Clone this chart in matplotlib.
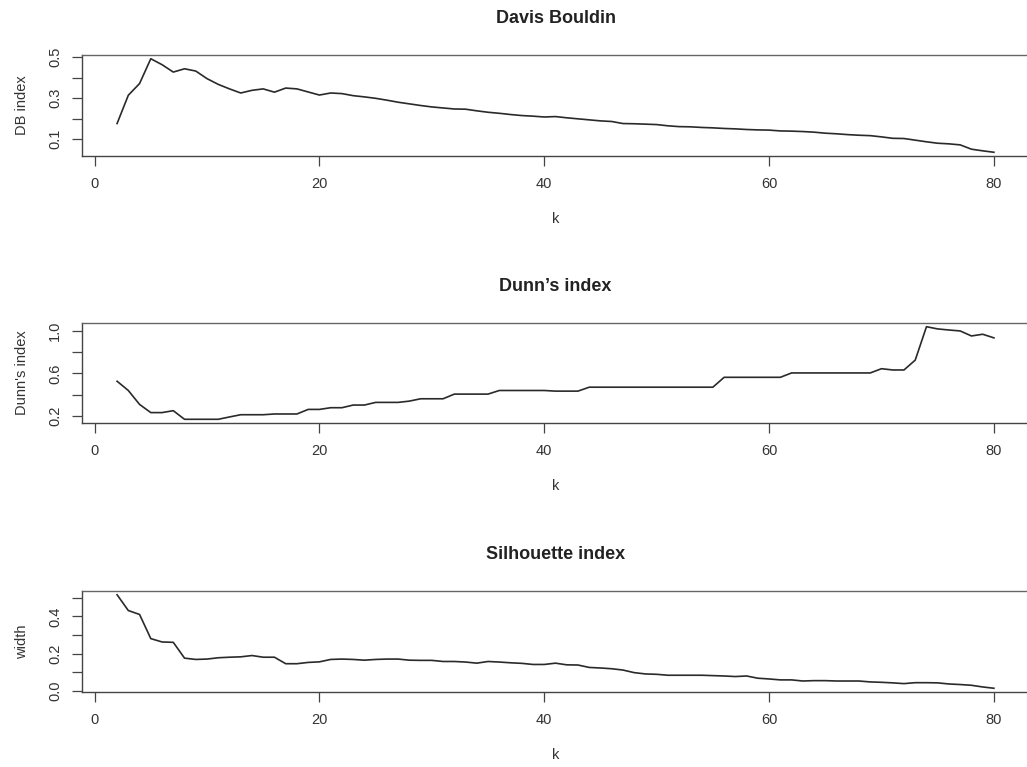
import matplotlib
matplotlib.use("Agg")
import matplotlib.pyplot as plt
import numpy as np

plt.rcParams['font.family'] = ['Liberation Sans', 'DejaVu Sans']

k = list(range(2, 81))

db_index = [0.176, 0.314, 0.371, 0.492, 0.463, 0.427, 0.443, 0.432, 0.395, 0.367,
            0.345, 0.325, 0.338, 0.345, 0.329, 0.349, 0.345, 0.330, 0.315, 0.325,
            0.322, 0.312, 0.306, 0.299, 0.290, 0.280, 0.272, 0.264, 0.257, 0.252,
            0.247, 0.246, 0.238, 0.231, 0.226, 0.220, 0.215, 0.212, 0.208, 0.210,
            0.204, 0.199, 0.194, 0.189, 0.186, 0.176, 0.175, 0.173, 0.171, 0.165,
            0.161, 0.160, 0.157, 0.155, 0.152, 0.150, 0.147, 0.145, 0.144, 0.140,
            0.139, 0.137, 0.134, 0.129, 0.126, 0.122, 0.119, 0.117, 0.111, 0.104,
            0.103, 0.095, 0.087, 0.080, 0.077, 0.072, 0.051, 0.043, 0.036]

dunn_index = [0.527, 0.440, 0.309, 0.232, 0.232, 0.250, 0.169, 0.169, 0.169, 0.169,
              0.191, 0.212, 0.212, 0.212, 0.219, 0.219, 0.219, 0.262, 0.262, 0.278,
              0.278, 0.303, 0.303, 0.328, 0.328, 0.328, 0.340, 0.362, 0.362, 0.362,
              0.406, 0.406, 0.406, 0.406, 0.440, 0.440, 0.440, 0.440, 0.440, 0.434,
              0.434, 0.434, 0.471, 0.471, 0.471, 0.471, 0.471, 0.471, 0.471, 0.471,
              0.471, 0.471, 0.471, 0.471, 0.564, 0.564, 0.564, 0.564, 0.564, 0.564,
              0.605, 0.605, 0.605, 0.605, 0.605, 0.605, 0.605, 0.605, 0.645, 0.633,
              0.633, 0.726, 1.040, 1.019, 1.009, 1.000, 0.953, 0.969, 0.935]

silhouette_width = [0.517, 0.432, 0.411, 0.281, 0.263, 0.261, 0.176, 0.169, 0.171, 0.178,
                    0.181, 0.183, 0.190, 0.181, 0.181, 0.146, 0.146, 0.153, 0.156, 0.169,
                    0.171, 0.169, 0.165, 0.169, 0.171, 0.171, 0.165, 0.164, 0.164, 0.158,
                    0.158, 0.155, 0.149, 0.158, 0.155, 0.151, 0.148, 0.142, 0.142, 0.149,
                    0.140, 0.139, 0.126, 0.123, 0.119, 0.112, 0.098, 0.091, 0.089, 0.084,
                    0.084, 0.084, 0.084, 0.082, 0.080, 0.077, 0.080, 0.068, 0.064, 0.059,
                    0.059, 0.053, 0.055, 0.055, 0.053, 0.053, 0.053, 0.048, 0.046, 0.043,
                    0.039, 0.044, 0.044, 0.043, 0.037, 0.034, 0.030, 0.021, 0.014]

titles = ["Davis Bouldin", "Dunn\u2019s index", "Silhouette index"]
ylabels = ["DB index", "Dunn's index", "width"]
xticks = [0, 20, 40, 60, 80]
yticks_list = [[0.1, 0.2, 0.3, 0.4, 0.5],
               [0.2, 0.4, 0.6, 0.8, 1.0],
               [0.0, 0.1, 0.2, 0.3, 0.4, 0.5]]
ytick_labels_list = [["0.1", "", "0.3", "", "0.5"],
                     ["0.2", "", "0.6", "", "1.0"],
                     ["0.0", "", "0.2", "", "0.4", ""]]
series = [db_index, dunn_index, silhouette_width]

W, H = 1027, 767
fig = plt.figure(figsize=(W / 100, H / 100), dpi=100)

left_px, right_px = 82, 1029
tops = [55, 323, 591]
bottoms = [156, 423, 692]

line_col = "#2a2a2a"
axis_col = "#444444"
text_col = "#333333"
fs = 10.5

for i in range(3):
    t, b = tops[i], bottoms[i]
    ax = fig.add_axes([left_px / W, 1 - b / H, (right_px - left_px) / W, (b - t) / H])
    ax.plot(k, series[i], color=line_col, lw=1.2)
    ax.margins(x=0.04, y=0.04)
    ax.set_xticks(xticks)
    ax.set_xticklabels([str(v) for v in xticks])
    ax.set_yticks(yticks_list[i])
    ax.set_yticklabels(ytick_labels_list[i], rotation=90, va='center')
    for s in ax.spines.values():
        s.set_color(axis_col)
        s.set_linewidth(1.0)
    ax.spines['top'].set_color('#666666')
    ax.spines['right'].set_visible(False)
    ax.tick_params(axis='both', direction='out', length=7.2, width=0.9,
                   color=axis_col, labelcolor=text_col, labelsize=fs)
    ax.tick_params(axis='x', pad=8)
    ax.tick_params(axis='y', pad=7)
    ax.set_xlabel("k", fontsize=fs, color=text_col, labelpad=15)
    ax.set_ylabel(ylabels[i], fontsize=fs, color=text_col, labelpad=14)
    ax.set_title(titles[i], fontsize=13, fontweight='bold', color='#222222', pad=23)
    ax.set_facecolor('white')

fig.savefig("out.png", dpi=100)
